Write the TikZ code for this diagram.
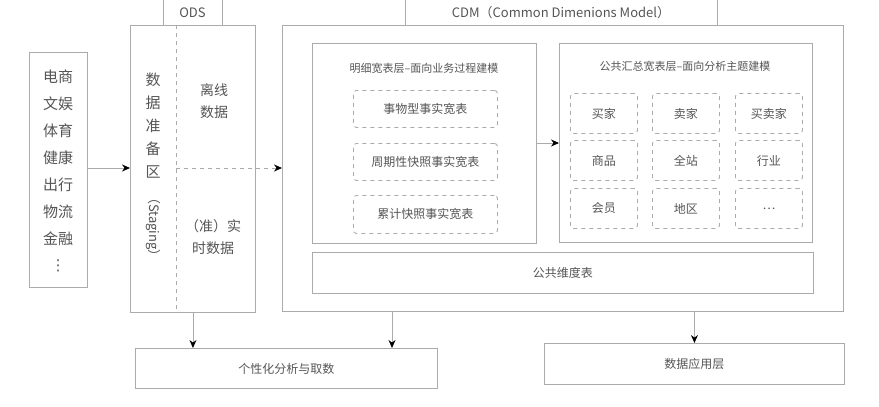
\documentclass[tikz,border=0pt]{standalone}
\usepackage{fontspec}
\setmainfont{Noto Sans CJK SC}
\newfontfamily\symfont{DejaVu Sans}
\usetikzlibrary{calc}
\usetikzlibrary{arrows.meta}

\definecolor{linegray}{HTML}{ABABAB}
\definecolor{textgray}{HTML}{555555}

\tikzset{
  box/.style={draw=linegray, line width=0.9pt, anchor=north west, inner sep=0pt, text=textgray},
  dbox/.style={box, dash pattern=on 4pt off 4pt, rounded corners=3pt, font=\fontsize{12}{14}\selectfont},
  lbl/.style={text=textgray, inner sep=0pt},
  arr/.style={draw=linegray, line width=0.9pt, -{Stealth[length=8pt,width=7pt,black]}},
}

\begin{document}
\begin{tikzpicture}[x=1pt,y=-1pt]
\useasboundingbox[fill=white] (0,0) rectangle (879,407);
% sources
\node[box, minimum width=58pt, minimum height=235pt] (src) at (29,52) {};
\node[lbl, align=center, font=\fontsize{15}{27}\selectfont] (srctext) at (58,158)
  {电商\\文娱\\体育\\健康\\出行\\物流\\金融};
\node[lbl, font=\symfont\fontsize{15}{17}\selectfont] (srcmore) at (58,266) {⋮};
% ODS
\node[box, minimum width=125pt, minimum height=287pt] (ods) at (130,25) {};
\draw[linegray, line width=0.9pt] (163,0) -- (163,25) (222,0) -- (222,25);
\node[lbl, font=\fontsize{13}{15}\selectfont] (odslbl) at (192.5,13) {ODS};
\draw[linegray, line width=0.9pt, dash pattern=on 4pt off 4pt] (176,25) -- (176,312);
\node[lbl, align=center, font=\fontsize{15}{23}\selectfont] (stg) at (153,126)
  {数\\据\\准\\备\\区};
\node[lbl, rotate=-90, font=\fontsize{13}{15}\selectfont] (stgen) at (153,227) {（Staging）};
\node[lbl, align=center, font=\fontsize{14}{22}\selectfont] (offline) at (214,101) {离线\\数据};
\node[lbl, align=center, font=\fontsize{14}{22}\selectfont] (online) at (213,237) {（准）实\\时数据};
\coordinate (odsmid) at (176,168);
% CDM
\node[box, minimum width=561pt, minimum height=286pt] (cdm) at (282,25) {};
\draw[linegray, line width=0.9pt] (405,0) -- (405,25) (717,0) -- (717,25);
\node[lbl, font=\fontsize{13}{15}\selectfont] (cdmlbl) at (561,13) {CDM（Common Dimenions Model）};
\node[box, minimum width=224pt, minimum height=200pt] (detail) at (312,43) {};
\node[lbl, font=\fontsize{11}{13}\selectfont] (dtitle) at (424,68) {明细宽表层–面向业务过程建模};
\node[dbox, minimum width=144pt, minimum height=37pt] (fact1) at (353,90) {事物型事实宽表};
\node[dbox, minimum width=144pt, minimum height=37pt] (fact2) at (353,143) {周期性快照事实宽表};
\node[dbox, minimum width=144pt, minimum height=38pt] (fact3) at (353,195) {累计快照事实宽表};
\node[box, minimum width=253pt, minimum height=199pt] (summary) at (559,43) {};
\node[lbl, font=\fontsize{11}{13}\selectfont] (stitle) at (685,66) {公共汇总宽表层–面向分析主题建模};
\foreach \name/\cx/\cy [count=\i] in {买家/570/93, 卖家/652/93, 买卖家/735/93,
    商品/570/140, 全站/652/140, 行业/735/140, 会员/570/188, 地区/652/188, …/735/188}
  \node[dbox, minimum width=67pt, minimum height=40pt] (topic\i) at (\cx,\cy) {\name};
\node[box, minimum width=501pt, minimum height=41pt, font=\fontsize{12}{14}\selectfont] (dim) at (312,252) {公共维度表};
% outputs
\node[box, minimum width=302pt, minimum height=40pt, font=\fontsize{12}{14}\selectfont] (pers) at (135,348) {个性化分析与取数};
\node[box, minimum width=300pt, minimum height=41pt, font=\fontsize{12}{14}\selectfont] (app) at (544,343) {数据应用层};
% arrows
\draw[arr] (src.east |- 0,168) -- (ods.west |- 0,168);
\draw[arr, dash pattern=on 4pt off 4pt] (odsmid) -- (cdm.west |- odsmid);
\draw[arr] (detail.east |- 0,143) -- (summary.west |- 0,143);
\draw[arr] (ods.south) -- (pers.north -| ods.south);
\draw[arr] (cdm.south -| 392,0) -- (pers.north -| 392,0);
\draw[arr] (cdm.south -| app.north) -- (app.north);
\end{tikzpicture}
\end{document}
